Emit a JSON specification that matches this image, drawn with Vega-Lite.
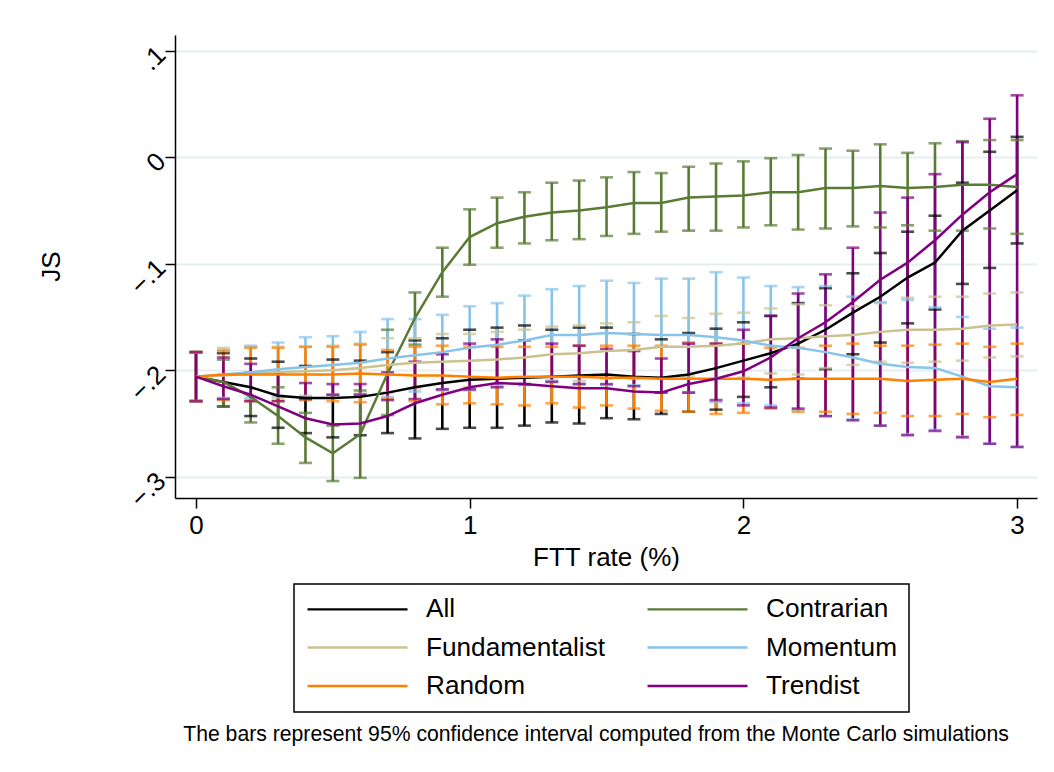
{
  "$schema": "https://vega.github.io/schema/vega-lite/v6.json",
  "autosize": {"type": "none"},
  "width": 862,
  "height": 463,
  "padding": {"left": 175, "top": 35, "right": 17, "bottom": 274},
  "background": "white",
  "title": {"text": "The bars represent 95% confidence interval computed from the Monte Carlo simulations", "orient": "bottom", "anchor": "middle", "font": "Liberation Sans", "fontSize": 21.2, "fontWeight": "normal", "color": "black", "offset": 11, "dx": -10},
  "config": {
    "view": {"stroke": null},
    "axis": {"domainColor": "black", "domainWidth": 1.5, "tickColor": "black", "tickWidth": 1.5, "tickSize": 10, "labelFont": "Liberation Sans", "labelFontSize": 26, "labelColor": "black", "titleFont": "Liberation Sans", "titleFontSize": 26, "titleFontWeight": "normal", "titleColor": "black"},
    "legend": {"orient": "none", "legendX": 119, "legendY": 549, "columns": 2, "symbolType": "stroke", "symbolSize": 10000, "symbolStrokeWidth": 2.4, "symbolOpacity": 1, "clipHeight": 26, "labelFont": "Liberation Sans", "labelFontSize": 26.2, "labelColor": "black", "labelOffset": 17, "columnPadding": 40, "rowPadding": 11.5, "padding": 12, "strokeColor": "black", "strokeWidth": 1.5, "labelLimit": 400}
  },
  "data": {"values": [
    {"s":"All","x":0,"m":-0.206,"lo":-0.229,"hi":-0.183},
    {"s":"All","x":0.1,"m":-0.211,"lo":-0.234,"hi":-0.184},
    {"s":"All","x":0.2,"m":-0.216,"lo":-0.243,"hi":-0.189},
    {"s":"All","x":0.3,"m":-0.224,"lo":-0.254,"hi":-0.192},
    {"s":"All","x":0.4,"m":-0.226,"lo":-0.259,"hi":-0.196},
    {"s":"All","x":0.5,"m":-0.226,"lo":-0.263,"hi":-0.190},
    {"s":"All","x":0.6,"m":-0.225,"lo":-0.261,"hi":-0.191},
    {"s":"All","x":0.7,"m":-0.221,"lo":-0.259,"hi":-0.183},
    {"s":"All","x":0.8,"m":-0.216,"lo":-0.264,"hi":-0.172},
    {"s":"All","x":0.9,"m":-0.212,"lo":-0.255,"hi":-0.170},
    {"s":"All","x":1.0,"m":-0.209,"lo":-0.254,"hi":-0.162},
    {"s":"All","x":1.1,"m":-0.208,"lo":-0.254,"hi":-0.160},
    {"s":"All","x":1.2,"m":-0.207,"lo":-0.252,"hi":-0.158},
    {"s":"All","x":1.3,"m":-0.206,"lo":-0.249,"hi":-0.162},
    {"s":"All","x":1.4,"m":-0.205,"lo":-0.250,"hi":-0.160},
    {"s":"All","x":1.5,"m":-0.204,"lo":-0.245,"hi":-0.160},
    {"s":"All","x":1.6,"m":-0.206,"lo":-0.246,"hi":-0.166},
    {"s":"All","x":1.7,"m":-0.207,"lo":-0.241,"hi":-0.171},
    {"s":"All","x":1.8,"m":-0.204,"lo":-0.239,"hi":-0.165},
    {"s":"All","x":1.9,"m":-0.198,"lo":-0.237,"hi":-0.161},
    {"s":"All","x":2.0,"m":-0.191,"lo":-0.225,"hi":-0.155},
    {"s":"All","x":2.1,"m":-0.184,"lo":-0.216,"hi":-0.149},
    {"s":"All","x":2.2,"m":-0.175,"lo":-0.208,"hi":-0.137},
    {"s":"All","x":2.3,"m":-0.162,"lo":-0.199,"hi":-0.123},
    {"s":"All","x":2.4,"m":-0.146,"lo":-0.185,"hi":-0.109},
    {"s":"All","x":2.5,"m":-0.131,"lo":-0.174,"hi":-0.090},
    {"s":"All","x":2.6,"m":-0.113,"lo":-0.156,"hi":-0.070},
    {"s":"All","x":2.7,"m":-0.099,"lo":-0.143,"hi":-0.055},
    {"s":"All","x":2.8,"m":-0.069,"lo":-0.119,"hi":-0.024},
    {"s":"All","x":2.9,"m":-0.050,"lo":-0.104,"hi":0.005},
    {"s":"All","x":3.0,"m":-0.031,"lo":-0.081,"hi":0.019},
    {"s":"Contrarian","x":0,"m":-0.206,"lo":-0.229,"hi":-0.183},
    {"s":"Contrarian","x":0.1,"m":-0.211,"lo":-0.234,"hi":-0.190},
    {"s":"Contrarian","x":0.2,"m":-0.225,"lo":-0.249,"hi":-0.202},
    {"s":"Contrarian","x":0.3,"m":-0.243,"lo":-0.269,"hi":-0.216},
    {"s":"Contrarian","x":0.4,"m":-0.263,"lo":-0.287,"hi":-0.240},
    {"s":"Contrarian","x":0.5,"m":-0.278,"lo":-0.304,"hi":-0.252},
    {"s":"Contrarian","x":0.6,"m":-0.260,"lo":-0.301,"hi":-0.219},
    {"s":"Contrarian","x":0.7,"m":-0.203,"lo":-0.242,"hi":-0.162},
    {"s":"Contrarian","x":0.8,"m":-0.151,"lo":-0.176,"hi":-0.127},
    {"s":"Contrarian","x":0.9,"m":-0.108,"lo":-0.131,"hi":-0.085},
    {"s":"Contrarian","x":1.0,"m":-0.075,"lo":-0.101,"hi":-0.049},
    {"s":"Contrarian","x":1.1,"m":-0.062,"lo":-0.085,"hi":-0.038},
    {"s":"Contrarian","x":1.2,"m":-0.056,"lo":-0.081,"hi":-0.033},
    {"s":"Contrarian","x":1.3,"m":-0.052,"lo":-0.078,"hi":-0.024},
    {"s":"Contrarian","x":1.4,"m":-0.050,"lo":-0.077,"hi":-0.022},
    {"s":"Contrarian","x":1.5,"m":-0.047,"lo":-0.074,"hi":-0.019},
    {"s":"Contrarian","x":1.6,"m":-0.043,"lo":-0.072,"hi":-0.014},
    {"s":"Contrarian","x":1.7,"m":-0.043,"lo":-0.070,"hi":-0.015},
    {"s":"Contrarian","x":1.8,"m":-0.038,"lo":-0.069,"hi":-0.009},
    {"s":"Contrarian","x":1.9,"m":-0.037,"lo":-0.069,"hi":-0.006},
    {"s":"Contrarian","x":2.0,"m":-0.036,"lo":-0.066,"hi":-0.004},
    {"s":"Contrarian","x":2.1,"m":-0.033,"lo":-0.064,"hi":-0.001},
    {"s":"Contrarian","x":2.2,"m":-0.033,"lo":-0.068,"hi":0.002},
    {"s":"Contrarian","x":2.3,"m":-0.029,"lo":-0.067,"hi":0.008},
    {"s":"Contrarian","x":2.4,"m":-0.029,"lo":-0.065,"hi":0.006},
    {"s":"Contrarian","x":2.5,"m":-0.027,"lo":-0.066,"hi":0.012},
    {"s":"Contrarian","x":2.6,"m":-0.029,"lo":-0.064,"hi":0.004},
    {"s":"Contrarian","x":2.7,"m":-0.028,"lo":-0.069,"hi":0.013},
    {"s":"Contrarian","x":2.8,"m":-0.026,"lo":-0.069,"hi":0.015},
    {"s":"Contrarian","x":2.9,"m":-0.026,"lo":-0.067,"hi":0.016},
    {"s":"Contrarian","x":3.0,"m":-0.028,"lo":-0.072,"hi":0.016},
    {"s":"Fundamentalist","x":0,"m":-0.206,"lo":-0.229,"hi":-0.183},
    {"s":"Fundamentalist","x":0.1,"m":-0.205,"lo":-0.227,"hi":-0.179},
    {"s":"Fundamentalist","x":0.2,"m":-0.203,"lo":-0.228,"hi":-0.178},
    {"s":"Fundamentalist","x":0.3,"m":-0.202,"lo":-0.226,"hi":-0.178},
    {"s":"Fundamentalist","x":0.4,"m":-0.201,"lo":-0.224,"hi":-0.178},
    {"s":"Fundamentalist","x":0.5,"m":-0.200,"lo":-0.223,"hi":-0.177},
    {"s":"Fundamentalist","x":0.6,"m":-0.198,"lo":-0.222,"hi":-0.175},
    {"s":"Fundamentalist","x":0.7,"m":-0.195,"lo":-0.221,"hi":-0.170},
    {"s":"Fundamentalist","x":0.8,"m":-0.193,"lo":-0.217,"hi":-0.170},
    {"s":"Fundamentalist","x":0.9,"m":-0.192,"lo":-0.219,"hi":-0.166},
    {"s":"Fundamentalist","x":1.0,"m":-0.191,"lo":-0.216,"hi":-0.166},
    {"s":"Fundamentalist","x":1.1,"m":-0.190,"lo":-0.215,"hi":-0.164},
    {"s":"Fundamentalist","x":1.2,"m":-0.188,"lo":-0.213,"hi":-0.162},
    {"s":"Fundamentalist","x":1.3,"m":-0.185,"lo":-0.210,"hi":-0.159},
    {"s":"Fundamentalist","x":1.4,"m":-0.184,"lo":-0.210,"hi":-0.158},
    {"s":"Fundamentalist","x":1.5,"m":-0.182,"lo":-0.208,"hi":-0.156},
    {"s":"Fundamentalist","x":1.6,"m":-0.181,"lo":-0.208,"hi":-0.155},
    {"s":"Fundamentalist","x":1.7,"m":-0.178,"lo":-0.208,"hi":-0.149},
    {"s":"Fundamentalist","x":1.8,"m":-0.178,"lo":-0.206,"hi":-0.151},
    {"s":"Fundamentalist","x":1.9,"m":-0.177,"lo":-0.208,"hi":-0.147},
    {"s":"Fundamentalist","x":2.0,"m":-0.175,"lo":-0.207,"hi":-0.146},
    {"s":"Fundamentalist","x":2.1,"m":-0.171,"lo":-0.203,"hi":-0.142},
    {"s":"Fundamentalist","x":2.2,"m":-0.170,"lo":-0.204,"hi":-0.138},
    {"s":"Fundamentalist","x":2.3,"m":-0.168,"lo":-0.198,"hi":-0.139},
    {"s":"Fundamentalist","x":2.4,"m":-0.167,"lo":-0.195,"hi":-0.140},
    {"s":"Fundamentalist","x":2.5,"m":-0.164,"lo":-0.192,"hi":-0.137},
    {"s":"Fundamentalist","x":2.6,"m":-0.162,"lo":-0.193,"hi":-0.132},
    {"s":"Fundamentalist","x":2.7,"m":-0.162,"lo":-0.192,"hi":-0.131},
    {"s":"Fundamentalist","x":2.8,"m":-0.161,"lo":-0.191,"hi":-0.131},
    {"s":"Fundamentalist","x":2.9,"m":-0.158,"lo":-0.188,"hi":-0.128},
    {"s":"Fundamentalist","x":3.0,"m":-0.157,"lo":-0.187,"hi":-0.127},
    {"s":"Momentum","x":0,"m":-0.206,"lo":-0.229,"hi":-0.183},
    {"s":"Momentum","x":0.1,"m":-0.204,"lo":-0.226,"hi":-0.181},
    {"s":"Momentum","x":0.2,"m":-0.202,"lo":-0.226,"hi":-0.177},
    {"s":"Momentum","x":0.3,"m":-0.199,"lo":-0.224,"hi":-0.174},
    {"s":"Momentum","x":0.4,"m":-0.197,"lo":-0.225,"hi":-0.169},
    {"s":"Momentum","x":0.5,"m":-0.195,"lo":-0.223,"hi":-0.168},
    {"s":"Momentum","x":0.6,"m":-0.193,"lo":-0.223,"hi":-0.164},
    {"s":"Momentum","x":0.7,"m":-0.189,"lo":-0.225,"hi":-0.152},
    {"s":"Momentum","x":0.8,"m":-0.186,"lo":-0.220,"hi":-0.152},
    {"s":"Momentum","x":0.9,"m":-0.183,"lo":-0.218,"hi":-0.148},
    {"s":"Momentum","x":1.0,"m":-0.179,"lo":-0.219,"hi":-0.140},
    {"s":"Momentum","x":1.1,"m":-0.176,"lo":-0.214,"hi":-0.137},
    {"s":"Momentum","x":1.2,"m":-0.172,"lo":-0.214,"hi":-0.130},
    {"s":"Momentum","x":1.3,"m":-0.167,"lo":-0.210,"hi":-0.124},
    {"s":"Momentum","x":1.4,"m":-0.167,"lo":-0.213,"hi":-0.121},
    {"s":"Momentum","x":1.5,"m":-0.165,"lo":-0.214,"hi":-0.116},
    {"s":"Momentum","x":1.6,"m":-0.166,"lo":-0.214,"hi":-0.118},
    {"s":"Momentum","x":1.7,"m":-0.167,"lo":-0.221,"hi":-0.114},
    {"s":"Momentum","x":1.8,"m":-0.167,"lo":-0.221,"hi":-0.114},
    {"s":"Momentum","x":1.9,"m":-0.169,"lo":-0.230,"hi":-0.108},
    {"s":"Momentum","x":2.0,"m":-0.172,"lo":-0.231,"hi":-0.113},
    {"s":"Momentum","x":2.1,"m":-0.177,"lo":-0.233,"hi":-0.121},
    {"s":"Momentum","x":2.2,"m":-0.179,"lo":-0.237,"hi":-0.122},
    {"s":"Momentum","x":2.3,"m":-0.183,"lo":-0.243,"hi":-0.121},
    {"s":"Momentum","x":2.4,"m":-0.188,"lo":-0.246,"hi":-0.131},
    {"s":"Momentum","x":2.5,"m":-0.194,"lo":-0.252,"hi":-0.136},
    {"s":"Momentum","x":2.6,"m":-0.197,"lo":-0.260,"hi":-0.134},
    {"s":"Momentum","x":2.7,"m":-0.198,"lo":-0.256,"hi":-0.141},
    {"s":"Momentum","x":2.8,"m":-0.206,"lo":-0.262,"hi":-0.150},
    {"s":"Momentum","x":2.9,"m":-0.215,"lo":-0.269,"hi":-0.161},
    {"s":"Momentum","x":3.0,"m":-0.216,"lo":-0.272,"hi":-0.160},
    {"s":"Random","x":0,"m":-0.206,"lo":-0.229,"hi":-0.183},
    {"s":"Random","x":0.1,"m":-0.204,"lo":-0.228,"hi":-0.182},
    {"s":"Random","x":0.2,"m":-0.204,"lo":-0.229,"hi":-0.179},
    {"s":"Random","x":0.3,"m":-0.204,"lo":-0.229,"hi":-0.179},
    {"s":"Random","x":0.4,"m":-0.204,"lo":-0.228,"hi":-0.178},
    {"s":"Random","x":0.5,"m":-0.204,"lo":-0.229,"hi":-0.178},
    {"s":"Random","x":0.6,"m":-0.203,"lo":-0.230,"hi":-0.176},
    {"s":"Random","x":0.7,"m":-0.204,"lo":-0.227,"hi":-0.181},
    {"s":"Random","x":0.8,"m":-0.205,"lo":-0.229,"hi":-0.178},
    {"s":"Random","x":0.9,"m":-0.205,"lo":-0.232,"hi":-0.177},
    {"s":"Random","x":1.0,"m":-0.206,"lo":-0.231,"hi":-0.178},
    {"s":"Random","x":1.1,"m":-0.207,"lo":-0.232,"hi":-0.178},
    {"s":"Random","x":1.2,"m":-0.206,"lo":-0.233,"hi":-0.178},
    {"s":"Random","x":1.3,"m":-0.206,"lo":-0.231,"hi":-0.178},
    {"s":"Random","x":1.4,"m":-0.206,"lo":-0.235,"hi":-0.177},
    {"s":"Random","x":1.5,"m":-0.207,"lo":-0.233,"hi":-0.177},
    {"s":"Random","x":1.6,"m":-0.207,"lo":-0.236,"hi":-0.177},
    {"s":"Random","x":1.7,"m":-0.208,"lo":-0.238,"hi":-0.177},
    {"s":"Random","x":1.8,"m":-0.208,"lo":-0.239,"hi":-0.174},
    {"s":"Random","x":1.9,"m":-0.208,"lo":-0.241,"hi":-0.175},
    {"s":"Random","x":2.0,"m":-0.208,"lo":-0.240,"hi":-0.175},
    {"s":"Random","x":2.1,"m":-0.209,"lo":-0.236,"hi":-0.179},
    {"s":"Random","x":2.2,"m":-0.208,"lo":-0.239,"hi":-0.179},
    {"s":"Random","x":2.3,"m":-0.208,"lo":-0.239,"hi":-0.177},
    {"s":"Random","x":2.4,"m":-0.208,"lo":-0.241,"hi":-0.175},
    {"s":"Random","x":2.5,"m":-0.208,"lo":-0.240,"hi":-0.177},
    {"s":"Random","x":2.6,"m":-0.210,"lo":-0.243,"hi":-0.177},
    {"s":"Random","x":2.7,"m":-0.209,"lo":-0.243,"hi":-0.176},
    {"s":"Random","x":2.8,"m":-0.208,"lo":-0.241,"hi":-0.175},
    {"s":"Random","x":2.9,"m":-0.211,"lo":-0.244,"hi":-0.178},
    {"s":"Random","x":3.0,"m":-0.208,"lo":-0.242,"hi":-0.175},
    {"s":"Trendist","x":0,"m":-0.206,"lo":-0.229,"hi":-0.183},
    {"s":"Trendist","x":0.1,"m":-0.215,"lo":-0.227,"hi":-0.188},
    {"s":"Trendist","x":0.2,"m":-0.223,"lo":-0.229,"hi":-0.194},
    {"s":"Trendist","x":0.3,"m":-0.234,"lo":-0.229,"hi":-0.203},
    {"s":"Trendist","x":0.4,"m":-0.245,"lo":-0.227,"hi":-0.212},
    {"s":"Trendist","x":0.5,"m":-0.251,"lo":-0.223,"hi":-0.213},
    {"s":"Trendist","x":0.6,"m":-0.250,"lo":-0.223,"hi":-0.213},
    {"s":"Trendist","x":0.7,"m":-0.243,"lo":-0.228,"hi":-0.202},
    {"s":"Trendist","x":0.8,"m":-0.231,"lo":-0.227,"hi":-0.192},
    {"s":"Trendist","x":0.9,"m":-0.223,"lo":-0.218,"hi":-0.185},
    {"s":"Trendist","x":1.0,"m":-0.216,"lo":-0.218,"hi":-0.175},
    {"s":"Trendist","x":1.1,"m":-0.212,"lo":-0.216,"hi":-0.171},
    {"s":"Trendist","x":1.2,"m":-0.213,"lo":-0.213,"hi":-0.172},
    {"s":"Trendist","x":1.3,"m":-0.215,"lo":-0.211,"hi":-0.175},
    {"s":"Trendist","x":1.4,"m":-0.217,"lo":-0.213,"hi":-0.177},
    {"s":"Trendist","x":1.5,"m":-0.217,"lo":-0.213,"hi":-0.180},
    {"s":"Trendist","x":1.6,"m":-0.220,"lo":-0.215,"hi":-0.182},
    {"s":"Trendist","x":1.7,"m":-0.221,"lo":-0.221,"hi":-0.189},
    {"s":"Trendist","x":1.8,"m":-0.213,"lo":-0.221,"hi":-0.175},
    {"s":"Trendist","x":1.9,"m":-0.208,"lo":-0.228,"hi":-0.175},
    {"s":"Trendist","x":2.0,"m":-0.201,"lo":-0.233,"hi":-0.162},
    {"s":"Trendist","x":2.1,"m":-0.188,"lo":-0.235,"hi":-0.149},
    {"s":"Trendist","x":2.2,"m":-0.170,"lo":-0.236,"hi":-0.128},
    {"s":"Trendist","x":2.3,"m":-0.155,"lo":-0.243,"hi":-0.110},
    {"s":"Trendist","x":2.4,"m":-0.136,"lo":-0.247,"hi":-0.085},
    {"s":"Trendist","x":2.5,"m":-0.115,"lo":-0.252,"hi":-0.052},
    {"s":"Trendist","x":2.6,"m":-0.099,"lo":-0.261,"hi":-0.038},
    {"s":"Trendist","x":2.7,"m":-0.078,"lo":-0.257,"hi":-0.016},
    {"s":"Trendist","x":2.8,"m":-0.054,"lo":-0.263,"hi":0.014},
    {"s":"Trendist","x":2.9,"m":-0.033,"lo":-0.269,"hi":0.036},
    {"s":"Trendist","x":3.0,"m":-0.016,"lo":-0.272,"hi":0.058}
  ]},
  "encoding": {
    "x": {"field": "x", "type": "quantitative", "scale": {"domain": [-0.0767, 3.0727], "nice": false, "zero": false},
      "axis": {"values": [0, 1, 2, 3], "grid": false, "title": "FTT rate (%)", "labelPadding": 4, "titlePadding": 6, "format": "d"}},
    "color": {"field": "s", "type": "nominal", "title": null,
      "scale": {"domain": ["All", "Fundamentalist", "Random", "Contrarian", "Momentum", "Trendist"], "range": ["#000000", "#cbc291", "#ff8000", "#5a7b35", "#88c3ea", "#800080"]}}
  },
  "layer": [
    {
      "mark": {"type": "rule", "strokeWidth": 2.6},
      "encoding": {
        "y": {"field": "lo", "type": "quantitative", "scale": {"domain": [-0.3199, 0.1146], "nice": false, "zero": false},
          "axis": {"values": [-0.3, -0.2, -0.1, 0, 0.1], "grid": true, "gridColor": "#e6eef0", "gridWidth": 2, "title": "JS", "labelAngle": -45, "labelAlign": "right", "labelBaseline": "middle", "labelPadding": 4, "labelExpr": "datum.value == 0 ? '0' : replace(format(datum.value, '.1f'), '0.', '.')", "titleX": -124, "titleY": 231, "titleAngle": -90, "titleAlign": "center", "titleBaseline": "middle"}},
        "y2": {"field": "hi"}
      }
    },
    {
      "mark": {"type": "tick", "orient": "horizontal", "size": 13, "thickness": 2.6},
      "encoding": {"y": {"field": "lo", "type": "quantitative"}}
    },
    {
      "mark": {"type": "tick", "orient": "horizontal", "size": 13, "thickness": 2.6},
      "encoding": {"y": {"field": "hi", "type": "quantitative"}}
    },
    {
      "mark": {"type": "line", "strokeWidth": 2.5},
      "encoding": {"y": {"field": "m", "type": "quantitative"}}
    }
  ]
}
